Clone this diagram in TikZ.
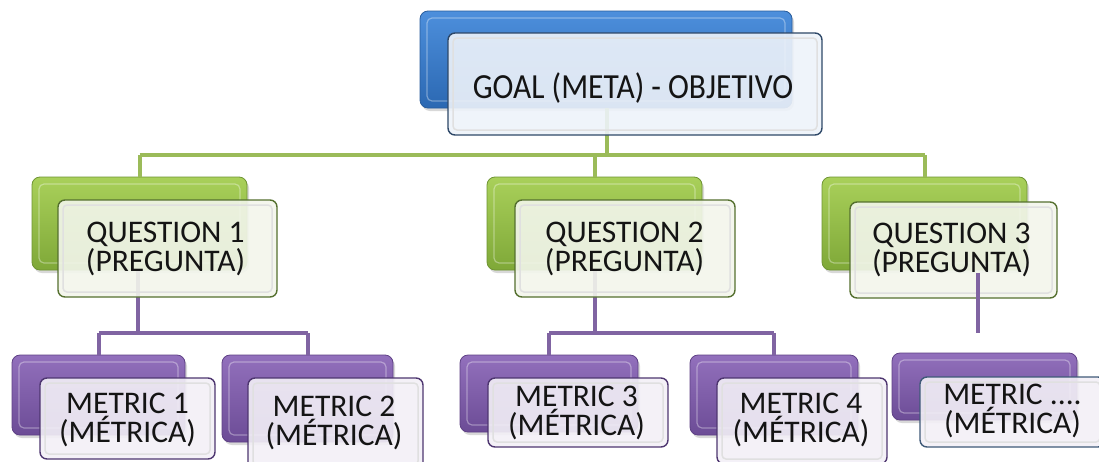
\documentclass[tikz,border=0pt]{standalone}
\usepackage{fontspec}
\setmainfont{Carlito}
\usetikzlibrary{shadows}
\definecolor{gline}{HTML}{9BBB59}
\definecolor{pline}{HTML}{8064A2}
\definecolor{bluetop}{HTML}{4D8FDC}
\definecolor{bluebot}{HTML}{2B68B2}
\definecolor{blueedge}{HTML}{285C9C}
\definecolor{greentop}{HTML}{A9D05A}
\definecolor{greenbot}{HTML}{7FA838}
\definecolor{greenedge}{HTML}{6E9432}
\definecolor{purptop}{HTML}{9270BC}
\definecolor{purpbot}{HTML}{6C4C96}
\definecolor{purpedge}{HTML}{5E4085}
\definecolor{goalfill}{HTML}{EEF3FA}
\definecolor{goaledge}{HTML}{2E4868}
\definecolor{qfill}{HTML}{F3F6EC}
\definecolor{qedge}{HTML}{55702F}
\definecolor{mfill}{HTML}{F3F0F7}
\definecolor{medge}{HTML}{4E3670}
\definecolor{slateedge}{HTML}{3F5A78}
\tikzset{
  bevel/.style={path picture={
    \draw[white, opacity=0.35, line width=1.2pt, rounded corners=5pt]
      ([shift={(7pt,-7pt)}]path picture bounding box.north west) rectangle
      ([shift={(-7pt,7pt)}]path picture bounding box.south east);}},
  backbox/.style={rectangle, rounded corners=8pt, line width=0.8pt, bevel,
    drop shadow={opacity=0.3, shadow xshift=2pt, shadow yshift=-3pt}},
  goalback/.style={backbox, top color=bluetop, bottom color=bluebot, draw=blueedge},
  qback/.style={backbox, top color=greentop, bottom color=greenbot, draw=greenedge},
  mback/.style={backbox, top color=purptop, bottom color=purpbot, draw=purpedge},
  frontbox/.style={rectangle, rounded corners=7pt, line width=1.4pt, fill opacity=0.9,
    path picture={
    \draw[black!12, line width=1.5pt, rounded corners=4pt]
      ([shift={(5pt,-5pt)}]path picture bounding box.north west) rectangle
      ([shift={(-5pt,5pt)}]path picture bounding box.south east);}},
  goalfront/.style={frontbox, fill=goalfill, draw=goaledge},
  qfront/.style={frontbox, fill=qfill, draw=qedge},
  mfront/.style={frontbox, fill=mfill, draw=medge},
  m5front/.style={frontbox, fill=mfill, draw=slateedge},
  bigtxt/.style={text=black!92, font=\fontsize{31.5}{36}\selectfont, inner sep=0pt},
  txt/.style={text=black!92, font=\fontsize{31.5}{28.5}\selectfont, align=center, inner sep=0pt},
  gconn/.style={draw=gline, line width=4pt},
  pconn/.style={draw=pline, line width=4pt}
}
\begin{document}
\begin{tikzpicture}[x=1pt, y=-1pt]
\fill[white] (0,0) rectangle (1099,461);
\clip (0,0) rectangle (1099,461);

% bus coordinates
\coordinate (gbus) at (607,155);
\coordinate (p1bus) at (138,333);
\coordinate (p2bus) at (595,333);
\coordinate (q3top) at (978,273);
\coordinate (q3end) at (978,333);

% back boxes
\node[goalback, minimum width=372pt, minimum height=97pt] (gb) at (606,59.5) {};
\node[qback, minimum width=215pt, minimum height=93pt] (q1b) at (139.5,223.5) {};
\node[qback, minimum width=215pt, minimum height=93pt] (q2b) at (594.5,223.5) {};
\node[qback, minimum width=205pt, minimum height=93pt] (q3b) at (924.5,223.5) {};
\node[mback, minimum width=173pt, minimum height=80pt] (m1b) at (98.5,395) {};
\node[mback, minimum width=171pt, minimum height=87pt] (m2b) at (307.5,398.5) {};
\node[mback, minimum width=178pt, minimum height=77pt] (m3b) at (549,393.5) {};
\node[mback, minimum width=168pt, minimum height=80pt] (m4b) at (774,395) {};
\node[mback, minimum width=185pt, minimum height=67pt] (m5b) at (984.5,386.5) {};

% connectors
\path[gconn] (gb.south -| gbus) -- (gbus);
\path[gconn] (q1b.north |- gbus) -- (q3b.north |- gbus);
\path[gconn] (q1b.north |- gbus) -- (q1b.north);
\path[gconn] (q2b.north |- gbus) -- (q2b.north);
\path[gconn] (q3b.north |- gbus) -- (q3b.north);

\path[pconn] (q1b.south -| p1bus) -- (p1bus);
\path[pconn] (m1b.north |- p1bus) -- (m2b.north |- p1bus);
\path[pconn] (m1b.north |- p1bus) -- (m1b.north);
\path[pconn] (m2b.north |- p1bus) -- (m2b.north);
\path[pconn] (q2b.south -| p2bus) -- (p2bus);
\path[pconn] (m3b.north |- p2bus) -- (m4b.north |- p2bus);
\path[pconn] (m3b.north |- p2bus) -- (m3b.north);
\path[pconn] (m4b.north |- p2bus) -- (m4b.north);

% front boxes
\node[goalfront, minimum width=374pt, minimum height=102pt] (gf) at (635,84) {};
\node[qfront, minimum width=219pt, minimum height=97pt] (q1f) at (167.5,248.5) {};
\node[qfront, minimum width=220pt, minimum height=97pt] (q2f) at (625,248.5) {};
\node[qfront, minimum width=207pt, minimum height=96pt] (q3f) at (953.5,250) {};
\node[mfront, minimum width=175pt, minimum height=81pt] (m1f) at (127.5,418.5) {};
\node[mfront, minimum width=175pt, minimum height=92pt] (m2f) at (335.5,424) {};
\node[mfront, minimum width=180pt, minimum height=69pt] (m3f) at (578,412.5) {};
\node[mfront, minimum width=170pt, minimum height=86pt] (m4f) at (802,421) {};
\node[m5front, minimum width=185pt, minimum height=70pt] (m5f) at (1012.5,412) {};

\path[pconn] (q3top) -- (q3end);

% texts
\node[bigtxt, anchor=base] (gt) at (633,98) {\scalebox{1}[1.12]{GOAL (META) - OBJETIVO}};
\node[txt] (q1t) at (165.5,249) {QUESTION 1\\(PREGUNTA)};
\node[txt] (q2t) at (624.5,249) {QUESTION 2\\(PREGUNTA)};
\node[txt] (q3t) at (951.5,250) {QUESTION 3\\(PREGUNTA)};
\node[txt] (m1t) at (127.5,420) {METRIC 1\\(MÉTRICA)};
\node[txt] (m2t) at (334,423) {METRIC 2\\(MÉTRICA)};
\node[txt] (m3t) at (576.5,413) {METRIC 3\\(MÉTRICA)};
\node[txt] (m4t) at (801,420) {METRIC 4\\(MÉTRICA)};
\node[txt] (m5t) at (1012.5,411) {METRIC ....\\(MÉTRICA)};
\end{tikzpicture}
\end{document}
